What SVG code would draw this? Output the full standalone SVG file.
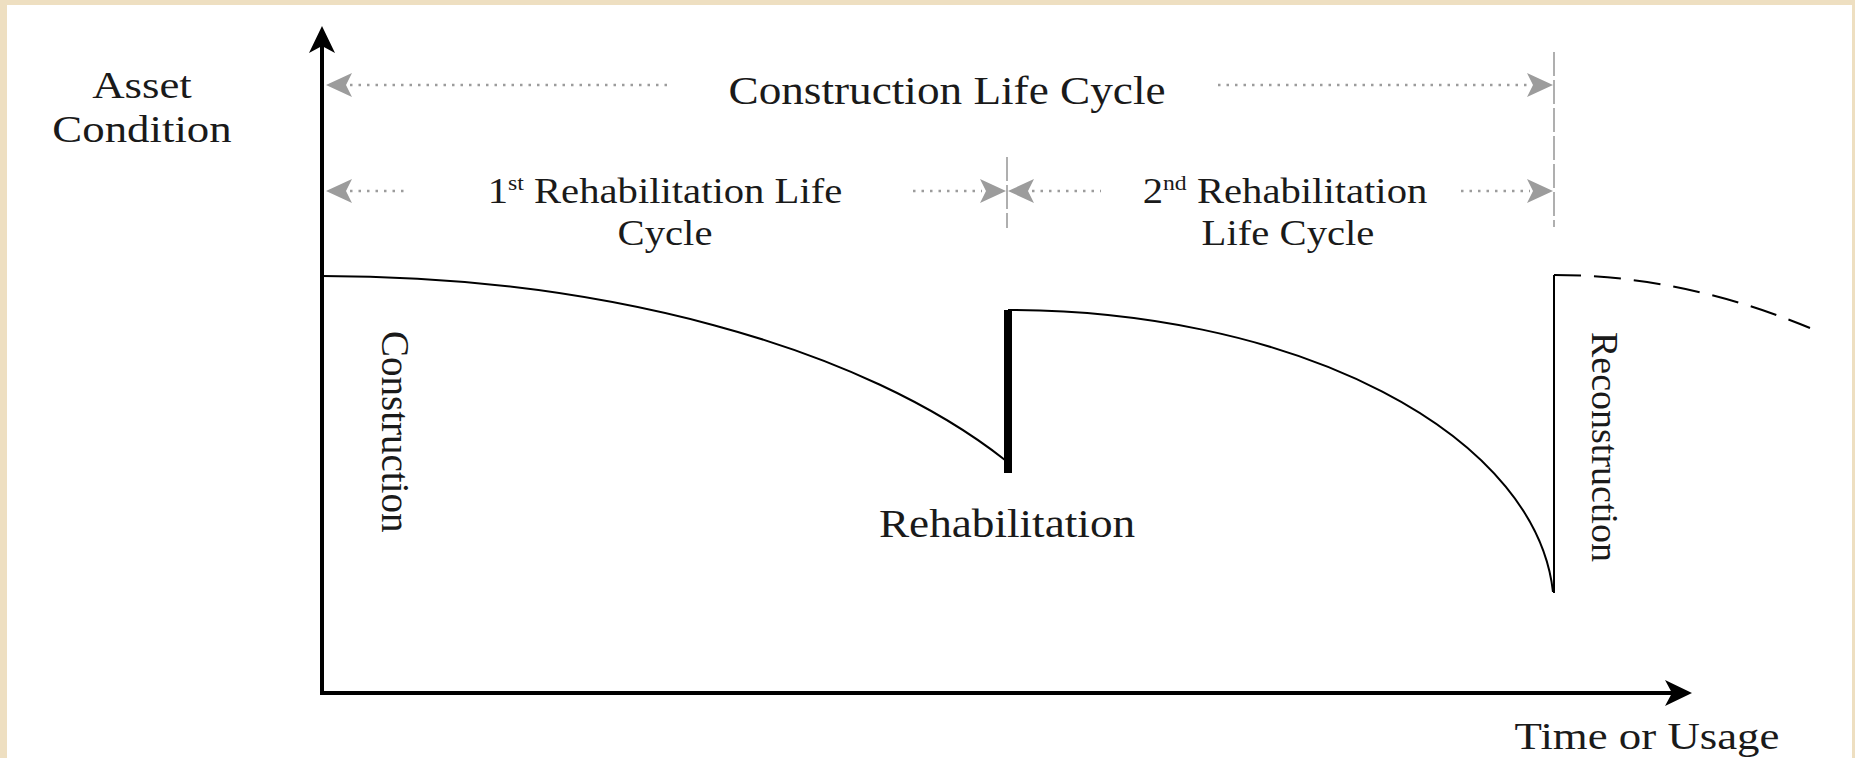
<svg xmlns="http://www.w3.org/2000/svg" xmlns:xlink="http://www.w3.org/1999/xlink" width="1855" height="758" viewBox="0 0 1855 758">
<style>
 .t{font-family:"Liberation Serif","Times New Roman",serif;fill:#1a1a1a;}
 .dot{stroke:#9c9c9c;stroke-width:2.5;stroke-dasharray:2.5 6;fill:none}
 .sep{stroke:#9c9c9c;stroke-width:1.6;stroke-dasharray:24 4;fill:none}
 .curve{stroke:#000;stroke-width:2;fill:none}
 .axis{stroke:#000;stroke-width:4;fill:none}
</style>
<defs>
 <path id="ga" d="M0,0 L-26,-12 L-20,0 L-26,12 Z" fill="#9c9c9c"/>
 <path id="ba" d="M0,0 L-27,-13 L-20,0 L-27,13 Z" fill="#000"/>
</defs>
<rect width="1855" height="758" fill="#EEDFC1"/>
<rect x="7" y="5" width="1845" height="753" fill="#fff"/>

<g id="connectors">
 <line class="axis" x1="322" y1="695" x2="322" y2="40"/>
 <use xlink:href="#ba" transform="translate(322,26) rotate(-90)"/>
 <line class="axis" x1="320" y1="693" x2="1675" y2="693"/>
 <use xlink:href="#ba" transform="translate(1692,693)"/>

 <line class="dot" x1="350" y1="85" x2="672" y2="85"/>
 <use xlink:href="#ga" transform="translate(326,85) rotate(180)"/>
 <line class="dot" x1="1218" y1="85" x2="1530" y2="85"/>
 <use xlink:href="#ga" transform="translate(1553,85)"/>

 <line class="dot" x1="350" y1="191" x2="408" y2="191"/>
 <use xlink:href="#ga" transform="translate(326,191) rotate(180)"/>
 <line class="dot" x1="913" y1="191" x2="982" y2="191"/>
 <use xlink:href="#ga" transform="translate(1006,191)"/>
 <use xlink:href="#ga" transform="translate(1008,191) rotate(180)"/>
 <line class="dot" x1="1032" y1="191" x2="1101" y2="191"/>
 <line class="dot" x1="1461" y1="191" x2="1530" y2="191"/>
 <use xlink:href="#ga" transform="translate(1553,191)"/>

 <line class="sep" x1="1007" y1="157" x2="1007" y2="228"/>
 <line class="sep" x1="1554" y1="52" x2="1554" y2="227"/>

 <path class="curve" d="M322,276 A800,383 0 0 1 1005,460"/>
 <line x1="1008" y1="310" x2="1008" y2="473" stroke="#000" stroke-width="8"/>
 <path class="curve" d="M1008,310 A546,300 0 0 1 1553,592"/>
 <path class="curve" d="M1554,593 L1554,275"/>
 <path class="curve" d="M1554,275 Q1682,275 1810,328" stroke-dasharray="27 13"/>
</g>

<g id="y-label">
 <text class="t" font-size="39" text-anchor="middle" transform="translate(142,98) scale(1.15,1)">Asset</text>
 <text class="t" font-size="39" text-anchor="middle" transform="translate(142,142) scale(1.15,1)">Condition</text>
</g>
<g id="construction-life-cycle">
 <text class="t" font-size="39" text-anchor="middle" transform="translate(947,104) scale(1.16,1)">Construction Life Cycle</text>
</g>
<g id="first-rehab-cycle">
 <text class="t" font-size="36" text-anchor="middle" transform="translate(665,203) scale(1.13,1)">1<tspan font-size="21" dy="-13">st</tspan><tspan dy="13"> Rehabilitation Life</tspan></text>
 <text class="t" font-size="36" text-anchor="middle" transform="translate(665,245) scale(1.13,1)">Cycle</text>
</g>
<g id="second-rehab-cycle">
 <text class="t" font-size="36" text-anchor="middle" transform="translate(1285,203) scale(1.13,1)">2<tspan font-size="21" dy="-13">nd</tspan><tspan dy="13"> Rehabilitation</tspan></text>
 <text class="t" font-size="36" text-anchor="middle" transform="translate(1288,245) scale(1.13,1)">Life Cycle</text>
</g>
<g id="construction">
 <text class="t" font-size="39" transform="translate(382,331) rotate(90)">Construction</text>
</g>
<g id="rehabilitation">
 <text class="t" font-size="39" text-anchor="middle" transform="translate(1007,537) scale(1.16,1)">Rehabilitation</text>
</g>
<g id="reconstruction">
 <text class="t" font-size="38" transform="translate(1592,332) rotate(90)">Reconstruction</text>
</g>
<g id="x-label">
 <text class="t" font-size="39" text-anchor="middle" transform="translate(1647,749) scale(1.15,1)">Time or Usage</text>
</g>
</svg>
